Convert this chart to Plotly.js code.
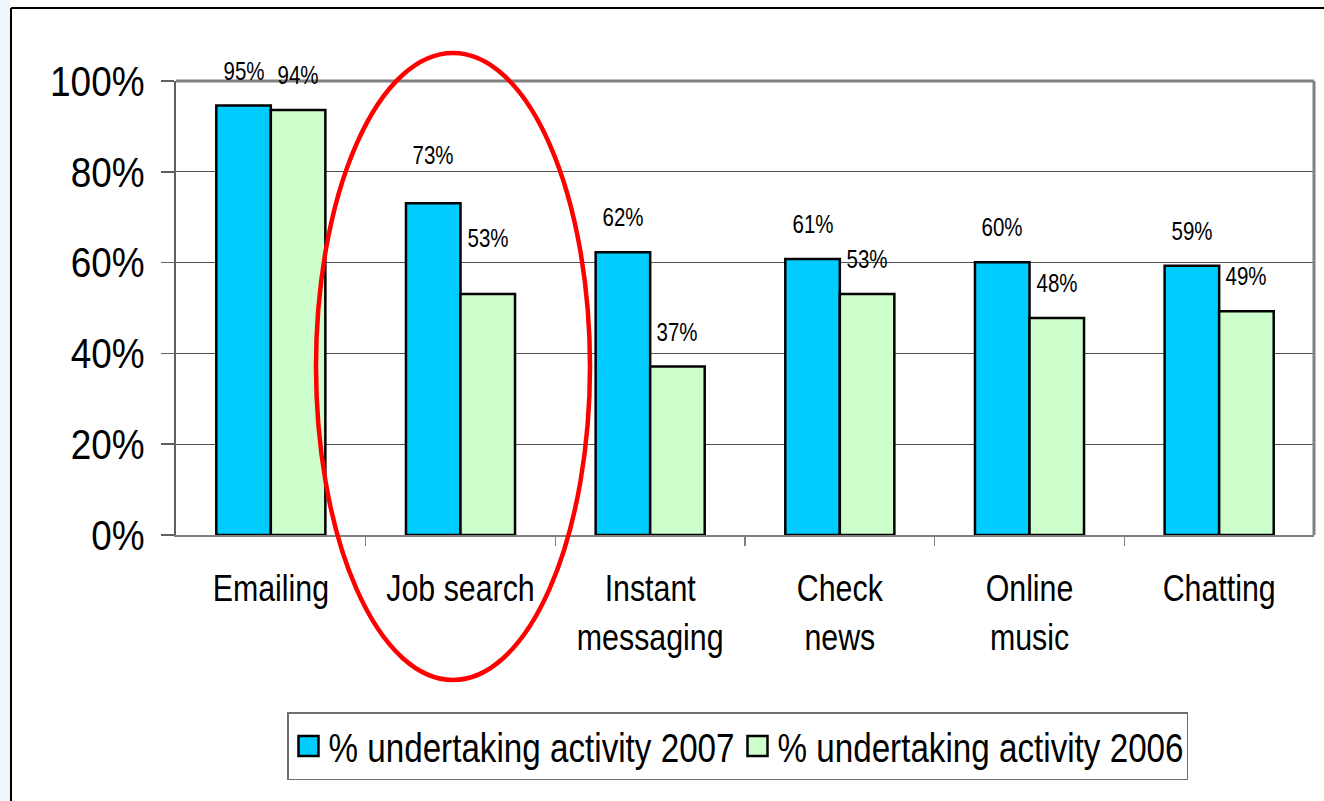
<!DOCTYPE html>
<html>
<head>
<meta charset="utf-8">
<script src="https://cdn.plot.ly/plotly-3.0.1.min.js"></script>
<style>
  html, body { margin: 0; padding: 0; background: #ffffff; }
  #chart { width: 1324px; height: 801px; }
</style>
</head>
<body>
<div id="chart"></div>
<script>
// ---- data ----
const categories = ["Emailing", "Job search", "Instant<br>messaging", "Check<br>news", "Online<br>music", "Chatting"];
const seriesNames = ["% undertaking activity 2007", "% undertaking activity 2006"];
const values2007 = [0.946, 0.731, 0.623, 0.608, 0.601, 0.593];
const values2006 = [0.936, 0.531, 0.371, 0.531, 0.478, 0.493];
const yTickValues = [0, 0.2, 0.4, 0.6, 0.8, 1.0];

// ---- geometry helpers (page pixels -> paper coords) ----
const W = 1324, H = 801;
const plotL = 176, plotR = 1314, plotT = 81, plotB = 535;
const pw = plotR - plotL, ph = plotB - plotT;
const px = x => (x - plotL) / pw;
const py = y => (plotB - y) / ph;

const FONT = '"Liberation Sans", Arial, sans-serif';
const bargap = 0.425;
const halfBar = (1 - bargap) / 4;

const traces = [
  {
    type: 'bar', name: seriesNames[0], x: categories.map((c, i) => i), y: values2007,
    marker: { color: '#00ccff', line: { color: '#000000', width: 2.5 } },
    hoverinfo: 'skip'
  },
  {
    type: 'bar', name: seriesNames[1], x: categories.map((c, i) => i), y: values2006,
    marker: { color: '#ccffcc', line: { color: '#000000', width: 2.5 } },
    hoverinfo: 'skip'
  }
];

// data labels
const annotations = [];
const fmt = v => Math.round(v * 100) + '%';
[values2007, values2006].forEach((vals, s) => {
  vals.forEach((v, i) => {
    let shift = 35;
    if (i === 1) shift = s === 0 ? 48 : 56;
    annotations.push({
      x: i + (s === 0 ? -halfBar : halfBar), y: v, xref: 'x', yref: 'y',
      text: fmt(v), showarrow: false, yanchor: 'middle', xanchor: 'center',
      yshift: shift, font: { family: FONT, size: 25, color: '#000' }
    });
  });
});

const shapes = [
  // left light strip
  { type: 'rect', xref: 'paper', yref: 'paper', x0: px(0), x1: px(10), y0: py(H), y1: py(0),
    fillcolor: '#eef5fb', line: { width: 0 }, layer: 'below' },
  // outer frame lines
  { type: 'line', xref: 'paper', yref: 'paper', x0: px(11), x1: px(W), y0: py(8), y1: py(8),
    line: { color: '#000', width: 2 } },
  { type: 'line', xref: 'paper', yref: 'paper', x0: px(11), x1: px(11), y0: py(8), y1: py(H),
    line: { color: '#000', width: 2 } },
  // plot area top and right border
  { type: 'line', xref: 'paper', yref: 'paper', x0: 0, x1: 1, y0: 1, y1: 1,
    line: { color: '#808080', width: 3 } },
  { type: 'line', xref: 'paper', yref: 'paper', x0: 1, x1: 1, y0: 0, y1: 1,
    line: { color: '#808080', width: 3 } },
  // red highlight ellipse around "Job search"
  { type: 'circle', xref: 'paper', yref: 'paper', x0: px(316), x1: px(590), y0: py(680), y1: py(53),
    line: { color: '#ff0000', width: 4.5 }, fillcolor: 'rgba(0,0,0,0)', layer: 'above' }
];

const layout = {
  width: W, height: H,
  margin: { l: plotL, r: W - plotR, t: plotT, b: H - plotB, pad: 0 },
  paper_bgcolor: 'rgba(0,0,0,0)', plot_bgcolor: '#ffffff',
  barmode: 'group', bargap: bargap, bargroupgap: 0,
  showlegend: true,
  font: { family: FONT, color: '#000' },
  xaxis: {
    type: 'linear', range: [-0.5, 5.5],
    tickmode: 'array', tickvals: categories.map((c, i) => i), ticktext: categories,
    showgrid: false, zeroline: false,
    showline: true, linecolor: '#808080', linewidth: 2,
    ticks: '', tickfont: { family: FONT, size: 37, color: '#000' },
    ticklabelstandoff: 20, fixedrange: true
  },
  xaxis2: {
    overlaying: 'x', range: [-0.5, 5.5], tickmode: 'array',
    tickvals: [0.5, 1.5, 2.5, 3.5, 4.5], showticklabels: false,
    ticks: 'outside', ticklen: 10, tickcolor: '#808080', tickwidth: 1.5,
    showgrid: false, zeroline: false, showline: false, anchor: 'y', side: 'bottom'
  },
  yaxis: {
    range: [0, 1], tickmode: 'array', tickvals: yTickValues, tickformat: '.0%',
    showgrid: true, gridcolor: '#505050', gridwidth: 1.2,
    zeroline: false, showline: true, linecolor: '#606060', linewidth: 2,
    ticks: 'outside', ticklen: 13, tickcolor: '#606060', tickwidth: 1.5,
    tickfont: { family: FONT, size: 42, color: '#000' },
    ticklabelstandoff: 8, fixedrange: true
  },
  legend: {
    orientation: 'h', x: px(287), y: py(712), xanchor: 'left', yanchor: 'top',
    bordercolor: '#707070', borderwidth: 1.5, bgcolor: '#ffffff',
    font: { family: FONT, size: 40, color: '#000' },
    entrywidth: 404, entrywidthmode: 'pixels', traceorder: 'normal'
  },
  annotations: annotations,
  shapes: shapes
};

// invisible trace carrying the boundary tick marks axis
traces.push({ type: 'scatter', x: [0], y: [0], xaxis: 'x2', yaxis: 'y', mode: 'markers',
  marker: { opacity: 0 }, showlegend: false, hoverinfo: 'skip' });

// condense text horizontally (the original uses a narrow rendering)
function narrow(el, f) {
  const len = el.getComputedTextLength();
  if (len > 0) {
    el.setAttribute('textLength', (len * f).toFixed(2));
    el.setAttribute('lengthAdjust', 'spacingAndGlyphs');
  }
}
function narrowAll(sel, f) {
  document.querySelectorAll(sel).forEach(t => {
    const lines = t.querySelectorAll('tspan.line');
    if (lines.length) lines.forEach(l => narrow(l, f));
    else narrow(t, f);
  });
}

Plotly.newPlot('chart', traces, layout, { displayModeBar: false, staticPlot: true }).then(gd => {
  document.querySelectorAll('.legend .legendpoints path').forEach(p => {
    p.setAttribute('d', 'M10,10H-10V-10H10Z');
    p.style.strokeWidth = '2.5px';
  });
  narrowAll('.xtick text', 0.82);
  narrowAll('.ytick text', 0.88);
  narrowAll('.legendtext', 0.83);
  narrowAll('.annotation-text', 0.82);
});
</script>
</body>
</html>
